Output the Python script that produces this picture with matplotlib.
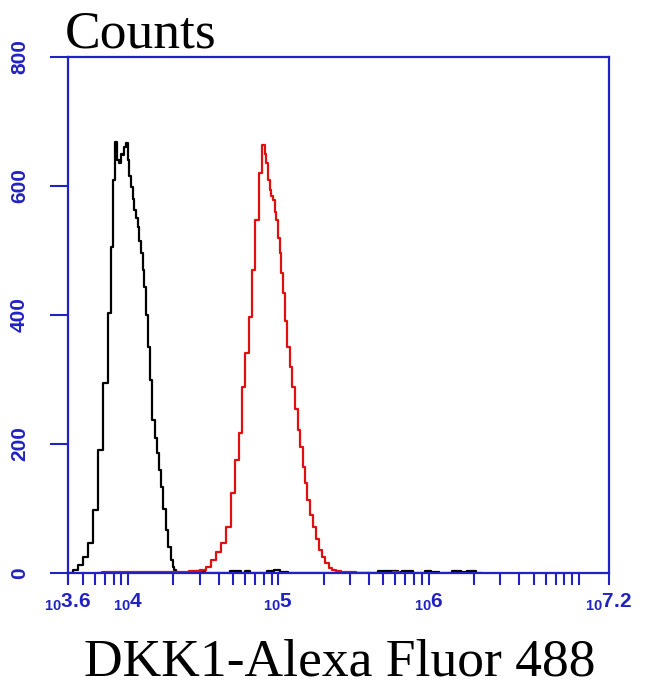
import numpy as np
import matplotlib
matplotlib.use('Agg')
import matplotlib.pyplot as plt
from matplotlib.ticker import LogLocator, NullFormatter, FixedLocator

# log10 of fluorescence (bin centres) and counts
black_log = [3.60, 3.613, 3.65, 3.68, 3.72, 3.747, 3.78, 3.813, 3.847, 3.88, 3.891, 3.902,
             3.92, 3.935, 3.947, 3.958, 3.969, 3.98, 3.991, 4.002, 4.014, 4.025, 4.036, 4.047,
             4.058, 4.069, 4.08, 4.091, 4.102, 4.113, 4.125, 4.136, 4.15, 4.169, 4.185, 4.202,
             4.214, 4.225, 4.24, 4.258, 4.275, 4.291, 4.30, 4.313, 4.33, 4.347,
             4.40, 4.50, 4.52, 4.60, 4.74, 4.76, 4.80, 4.82, 4.90, 4.95, 4.99, 5.03,
             5.10, 5.50, 5.78, 5.81, 5.84, 5.95, 6.00, 6.03, 6.10, 6.20, 6.23, 6.28, 6.35]
black_counts = [0, 0, 4, 12, 25, 46, 98, 190, 294, 403, 505, 609,
                668, 640, 636, 650, 648, 660, 667, 640, 615, 598, 580, 563,
                550, 536, 515, 496, 470, 443, 400, 350, 300, 237, 210, 186,
                160, 133, 100, 67, 40, 20, 10, 5, 1, 0,
                0, 3, 0, 0, 3, 0, 3, 0, 0, 3, 4, 2,
                0, 0, 3, 2, 3, 0, 3, 2, 0, 3, 2, 3, 0]

red_log = [3.80, 3.85, 3.95, 4.05, 4.15, 4.25, 4.35, 4.45, 4.502, 4.535, 4.569, 4.60,
           4.636, 4.669, 4.702, 4.724, 4.747, 4.769, 4.791, 4.813, 4.836, 4.858, 4.88, 4.902,
           4.914, 4.925, 4.936, 4.947, 4.958, 4.969, 4.98, 4.991, 5.002, 5.013, 5.025, 5.036,
           5.052, 5.069, 5.085, 5.102, 5.12, 5.136, 5.152, 5.169, 5.185, 5.202, 5.22, 5.236,
           5.258, 5.28, 5.30, 5.324, 5.345, 5.369, 5.40, 5.436, 5.50, 5.53, 5.75, 5.78, 5.82]
red_counts = [0, 1, 2, 1, 2, 1, 2, 3, 5, 10, 20, 32,
              46, 71, 124, 175, 217, 288, 341, 397, 470, 547, 620, 663,
              650, 636, 610, 594, 585, 578, 560, 547, 520, 496, 465, 434,
              390, 350, 320, 288, 255, 222, 195, 164, 140, 113, 90, 71,
              52, 36, 25, 15, 8, 5, 3, 2, 2, 0, 0, 2, 0]

y_ticks = [0, 200, 400, 600, 800]
x_tick_exp = ['3.6', '4', '5', '6', '7.2']

blue = '#2222c4'

plt.rcParams['mathtext.default'] = 'regular'

fig = plt.figure(figsize=(6.5, 6.85), dpi=100)
ax = fig.add_axes([68/650, 1 - 573/685, (609-68)/650, (573-57)/685])

ax.plot(10**np.array(black_log), black_counts, color='black', lw=1.6, drawstyle='steps-mid')
ax.plot(10**np.array(red_log), red_counts, color='#e01010', lw=1.6, drawstyle='steps-mid')

ax.set_xscale('log')
ax.set_xlim(10**3.6, 10**7.2)
ax.set_ylim(0, 800)

for s in ax.spines.values():
    s.set_color(blue)
    s.set_linewidth(1.6)

ax.set_yticks(y_ticks)
ax.set_yticklabels([str(v) for v in y_ticks], rotation=90, va='center',
                   fontfamily='Liberation Sans', fontweight='bold', fontsize=15, color=blue)
ax.tick_params(axis='y', direction='out', length=13, width=1.5, color=blue, pad=15)

ax.xaxis.set_major_locator(FixedLocator([10**float(e) for e in x_tick_exp]))
ax.set_xticklabels([r'$_{10}$' + e for e in x_tick_exp],
                   fontfamily='Liberation Sans', fontweight='bold', fontsize=15, color=blue)
ax.xaxis.set_minor_locator(LogLocator(base=10, subs=np.arange(1, 10), numticks=50))
ax.xaxis.set_minor_formatter(NullFormatter())
ax.tick_params(axis='x', which='both', direction='out', length=8.5, width=1.5, color=blue, pad=5)

fig.text(65/650, 1 - 47/685, 'Counts', fontfamily='Liberation Serif', fontsize=38.5,
         ha='left', va='baseline', color='black')
fig.text(340/650, 1 - 675/685, 'DKK1-Alexa Fluor 488', fontfamily='Liberation Serif',
         fontsize=38.5, ha='center', va='baseline', color='black')

fig.savefig('out.png', dpi=100, facecolor='white')
